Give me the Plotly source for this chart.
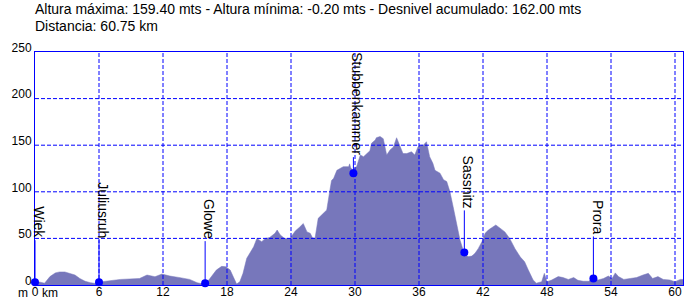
import plotly.graph_objects as go

# ---------------- data ----------------
km = [0.0, 0.3, 0.9, 1.4, 1.9, 2.3, 2.8, 3.3, 3.75, 4.2, 4.7, 5.2, 5.6, 6.0, 6.25,
      7.0, 8.0, 8.9, 9.8, 10.5, 11.25, 11.9, 12.65, 13.6, 14.5, 15.2, 15.95, 16.4,
      17.0, 17.5, 17.9, 18.3, 18.6, 18.9, 19.2, 19.5, 19.85, 20.15, 20.5, 20.8,
      21.25, 21.6, 22.0, 22.5, 22.7, 23.0, 23.4, 23.9, 24.4, 24.8, 25.15, 25.5,
      25.8, 26.0, 26.25, 26.55, 27.0, 27.35, 27.65, 27.8, 28.0, 28.3, 28.9, 29.4,
      29.5, 29.6, 29.85, 30.0, 30.15, 30.5, 30.8, 31.1, 31.4, 31.55, 31.9, 32.0,
      32.35, 32.65, 32.97, 33.3, 33.6, 33.9, 34.2, 34.5, 34.85, 35.3, 35.6, 35.9,
      36.25, 36.4, 36.7, 37.0, 37.3, 37.5, 37.97, 38.3, 38.6, 38.9, 39.2, 39.5,
      39.85, 40.1, 40.25, 40.6, 40.95, 41.25, 41.55, 41.9, 42.2, 42.5, 42.8, 43.2,
      43.6, 44.05, 44.5, 45.0, 45.5, 45.9, 46.25, 46.7, 47.0, 47.5, 47.75, 48.0,
      48.45, 49.05, 49.5, 50.0, 50.5, 50.9, 51.4, 51.9, 52.35, 52.8, 53.3, 53.75,
      54.1, 54.4, 54.7, 55.2, 55.8, 56.4, 57.0, 57.5, 57.9, 58.4, 58.9, 59.5,
      60.0, 60.5, 60.75]
elev = [3, 3.5, 2, 9, 13, 14, 14, 12.5, 10.7, 7, 4, 2.5, 2, 1, 3.5,
        4.6, 6, 6.5, 7, 10.7, 8.9, 11.8, 9.6, 7.9, 6, 2.5, 0.5, 7,
        16, 20, 19.5, 16, 9, 1, 3.5, 12.5, 28.6, 34, 41, 50,
        46.5, 50, 51, 55.5, 59, 53.6, 50, 50, 58, 62, 66, 57,
        55.5, 51, 50, 71.5, 77, 80.5, 102, 112, 114.5, 123, 127, 127,
        130, 125.5, 123, 126, 127, 139.5, 137.7, 141, 144, 152, 155.6, 158,
        159.4, 157, 139.5, 145, 148, 158, 150, 141, 141, 143, 139.5, 148,
        150, 150, 153.7, 137.7, 130.6, 123, 120, 113, 111, 100, 84, 66,
        48, 39, 35, 30.4, 31, 34, 39, 46.5, 55.5, 59, 61, 64.4,
        61, 57, 50, 39, 30, 25, 16, 5.4, 2, 3.5, 12.5, 3.5,
        5.4, 9, 8, 6, 8, 5, 4, 4, 7, 5.4, 7, 9.6,
        7, 13, 9, 6, 7, 8, 10.7, 12.5, 7, 9, 6, 5.4,
        3.5, 6, 6]

place_names = ["Wiek", "Juliusruh", "Glowe", "Stubbenkammer", "Sassnitz", "Prora"]
place_km = [0.0, 6.0, 15.95, 29.85, 40.25, 52.35]
place_elev = [3, 3, 2, 120, 35, 7]

x_ticks = [0, 6, 12, 18, 24, 30, 36, 42, 48, 54, 60]
x_ticktext = ["0", "6", "12", "18", "24", "30", "36", "42", "48", "54", "60"]
y_ticks = [0, 50, 100, 150, 200, 250]
x_max = 60.75
y_max = 250

title_line1 = "Altura máxima: 159.40 mts - Altura mínima: -0.20 mts - Desnivel acumulado: 162.00 mts"
title_line2 = "Distancia: 60.75 km"

# ---------------- style ----------------
FONT = "Liberation Sans, Arial, sans-serif"
BLUE = "#0000ff"
FILL = "#7777bb"
stem_px = [42, 42, 42, 16, 42, 42]

fig = go.Figure()

fig.add_trace(go.Scatter(x=km, y=elev, mode="lines", fill="tozeroy",
                         fillcolor=FILL, line=dict(color=FILL, width=0.5),
                         hoverinfo="skip", showlegend=False))

# grid lines drawn over the profile
gx, gy = [], []
for t in x_ticks[1:]:
    gx += [t, t, None]
    gy += [0, y_max, None]
for t in y_ticks[1:-1]:
    gx += [0, x_max, None]
    gy += [t, t, None]
fig.add_trace(go.Scatter(x=gx, y=gy, mode="lines",
                         line=dict(color=BLUE, width=1, dash="4px,2px"),
                         hoverinfo="skip", showlegend=False))

fig.add_trace(go.Scatter(x=place_km, y=place_elev, mode="markers",
                         marker=dict(color=BLUE, size=8),
                         cliponaxis=False, hoverinfo="skip", showlegend=False))

shapes = []
annotations = []
for name, xk, ye, st in zip(place_names, place_km, place_elev, stem_px):
    shapes.append(dict(type="line", xref="x", yref="y", ysizemode="pixel",
                       yanchor=ye, x0=xk, x1=xk, y0=0, y1=st,
                       line=dict(color=BLUE, width=1)))
    annotations.append(dict(x=xk, y=ye, xref="x", yref="y", text=name,
                            showarrow=False, textangle=90,
                            xanchor="center", yanchor="bottom",
                            xshift=4, yshift=st,
                            font=dict(family=FONT, size=14, color="black")))

annotations.append(dict(x=0, y=1, xref="paper", yref="paper", text=title_line1,
                        showarrow=False, xanchor="left", yanchor="bottom",
                        xshift=-2, yshift=33,
                        font=dict(family=FONT, size=14, color="black")))
annotations.append(dict(x=0, y=1, xref="paper", yref="paper", text=title_line2,
                        showarrow=False, xanchor="left", yanchor="bottom",
                        xshift=-2, yshift=16,
                        font=dict(family=FONT, size=14, color="black")))
annotations.append(dict(x=0, y=0, xref="x", yref="paper", text="m",
                        showarrow=False, xanchor="right", yanchor="top",
                        xshift=-5, yshift=1,
                        font=dict(family=FONT, size=12, color="black")))
annotations.append(dict(x=0, y=0, xref="x", yref="paper", text="km",
                        showarrow=False, xanchor="left", yanchor="top",
                        xshift=5, yshift=1,
                        font=dict(family=FONT, size=12, color="black")))

fig.update_layout(
    width=700, height=300,
    margin=dict(l=35, r=17, t=52, b=15),
    paper_bgcolor="white", plot_bgcolor="white",
    font=dict(family=FONT, size=12, color="black"),
    shapes=shapes, annotations=annotations,
    xaxis=dict(range=[0, x_max], tickvals=x_ticks, ticktext=x_ticktext,
               showgrid=False, zeroline=False, showline=True, mirror=True,
               linecolor=BLUE, linewidth=1, ticks="", automargin=False,
               ticklabelstandoff=-4,
               tickfont=dict(family=FONT, size=12, color="black")),
    yaxis=dict(range=[0, y_max], tickvals=y_ticks,
               showgrid=False, zeroline=False, showline=True, mirror=True,
               linecolor=BLUE, linewidth=1, ticks="", automargin=False,
               ticklabelposition="outside top", ticklabelshift=4,
               tickfont=dict(family=FONT, size=12, color="black")),
)

fig.write_html("out.html")
